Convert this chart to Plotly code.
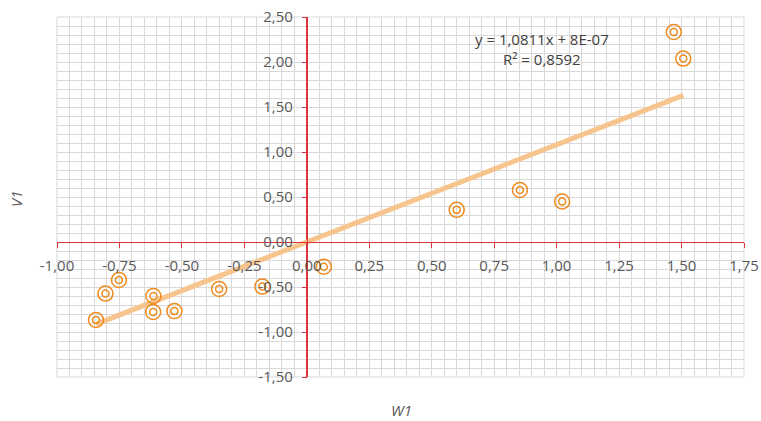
import plotly.graph_objects as go

# Data
w1 = [-0.844, -0.806, -0.752, -0.614, -0.615, -0.530, -0.351, -0.178,
      0.068, 0.600, 0.853, 1.022, 1.469, 1.507]
v1 = [-0.867, -0.573, -0.422, -0.600, -0.778, -0.768, -0.522, -0.495,
      -0.275, 0.357, 0.578, 0.450, 2.333, 2.038]

slope = 1.0811
intercept = 8e-07
eq_text = "y = 1,0811x + 8E-07"
r2_text = "R² = 0,8592"

x_ticks = [-1.0, -0.75, -0.5, -0.25, 0.0, 0.25, 0.5, 0.75, 1.0, 1.25, 1.5, 1.75]
x_labels = ["-1,00", "-0,75", "-0,50", "-0,25", "0,00", "0,25", "0,50", "0,75",
            "1,00", "1,25", "1,50", "1,75"]
y_ticks = [-1.5, -1.0, -0.5, 0.0, 0.5, 1.0, 1.5, 2.0, 2.5]
y_labels = ["-1,50", "-1,00", "-0,50", "0,00", "0,50", "1,00", "1,50", "2,00", "2,50"]

x_range = [-1.0, 1.75]
y_range = [-1.5, 2.5]

orange = "#EE8A1E"
trend_color = "#F7C48D"
red = "#D9343C"
grid = "#D9D9D9"
text_color = "#595959"
font_family = "Open Sans, Noto Sans, sans-serif"

W, H = 761, 421
ML, MR, MT, MB = 57, 17, 17, 44
pw = W - ML - MR
ph = H - MT - MB

def px_x(px):
    return (px - ML) / pw

def px_y(py):
    return (H - MB - py) / ph

x_line = [min(w1), max(w1)]
y_line = [slope * x + intercept for x in x_line]

fig = go.Figure()
fig.add_trace(go.Scatter(x=x_line, y=y_line, mode="lines",
                         line=dict(color=trend_color, width=5),
                         hoverinfo="skip", showlegend=False))
fig.add_trace(go.Scatter(x=w1, y=v1, mode="markers",
                         marker=dict(symbol="circle-open", size=15, color=orange,
                                     line=dict(width=1.5, color=orange)),
                         showlegend=False))
fig.add_trace(go.Scatter(x=w1, y=v1, mode="markers",
                         marker=dict(symbol="circle-open", size=7, color=orange,
                                     line=dict(width=1.5, color=orange)),
                         showlegend=False, hoverinfo="skip"))

x_zero_pos = (0 - y_range[0]) / (y_range[1] - y_range[0])
y_zero_pos = (0 - x_range[0]) / (x_range[1] - x_range[0])

fig.update_layout(
    width=W, height=H,
    margin=dict(l=ML, r=MR, t=MT, b=MB, autoexpand=False),
    paper_bgcolor="white", plot_bgcolor="white",
    font=dict(family=font_family, size=15, color=text_color),
    xaxis=dict(range=x_range, tickvals=x_ticks, ticktext=x_labels,
               showgrid=True, gridcolor=grid, gridwidth=1,
               minor=dict(dtick=0.05, tick0=0, showgrid=True, gridcolor=grid, gridwidth=1),
               zeroline=True, zerolinecolor=red, zerolinewidth=1,
               showline=True, linecolor=red, linewidth=1,
               ticks="outside", ticklen=5, tickcolor=red,
               ticklabelstandoff=5, automargin=False,
               anchor="free", position=x_zero_pos, fixedrange=True),
    yaxis=dict(range=y_range, tickvals=y_ticks, ticktext=y_labels,
               showgrid=True, gridcolor=grid, gridwidth=1,
               minor=dict(dtick=0.1, tick0=0, showgrid=True, gridcolor=grid, gridwidth=1),
               zeroline=True, zerolinecolor=red, zerolinewidth=1,
               showline=True, linecolor=red, linewidth=1,
               ticks="outside", ticklen=5, tickcolor=red,
               ticklabelstandoff=6, automargin=False,
               anchor="free", position=y_zero_pos, fixedrange=True),
    shapes=[dict(type="rect", xref="paper", yref="paper", x0=0, x1=1, y0=0, y1=1,
                 line=dict(color=grid, width=1), layer="below")],
    annotations=[
        dict(text=eq_text, x=px_x(542), y=px_y(39), xref="paper", yref="paper",
             showarrow=False, font=dict(size=15, color="#404040"),
             xanchor="center", yanchor="middle"),
        dict(text=r2_text, x=px_x(542), y=px_y(59), xref="paper", yref="paper",
             showarrow=False, font=dict(size=15, color="#404040"),
             xanchor="center", yanchor="middle"),
        dict(text="<i>W1</i>", x=px_x(401), y=px_y(410), xref="paper", yref="paper",
             showarrow=False, font=dict(size=15, color=text_color),
             xanchor="center", yanchor="middle"),
        dict(text="<i>V1</i>", x=px_x(16), y=px_y(199), xref="paper", yref="paper",
             showarrow=False, textangle=-90, font=dict(size=15, color=text_color),
             xanchor="center", yanchor="middle"),
    ],
)

fig.write_html("out.html", config={"displayModeBar": False},
               post_script="document.body.style.margin='0';document.body.style.overflow='hidden';")
